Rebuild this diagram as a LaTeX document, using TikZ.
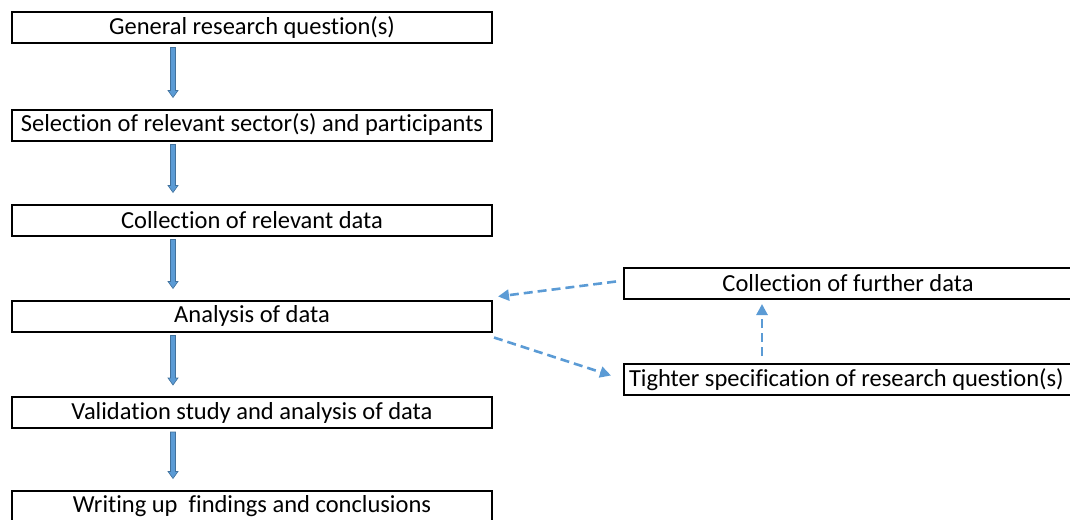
\documentclass[tikz,border=0pt]{standalone}
\usepackage{fontspec}
\setmainfont{Carlito}[Ligatures=NoCommon]
\usetikzlibrary{arrows.meta,calc}
\definecolor{arrowblue}{HTML}{5B9BD5}
\definecolor{arrowedge}{HTML}{41719C}
\tikzset{
  box/.style={draw=black, line width=2pt, inner sep=0pt, minimum height=31pt, font=\fontsize{24.5}{26}\selectfont, text=black},
  leftbox/.style={box, minimum width=480pt},
  rightbox/.style={box, minimum width=448pt},
  dasharrow/.style={draw=arrowblue, line width=2.6pt, dash pattern=on 9pt off 5pt, -{Triangle[length=11pt,width=11pt]}},
  blockarrow/.style={fill=arrowblue, draw=arrowedge, line width=0.6pt, line join=miter}
}
\newcommand{\blockarr}[2]{%
  \path let \p1=($(#1.south west)+(162,3)$), \p2=($(#2.north west)+(162,-11)$) in
    [blockarrow] (\x1-2.5pt,\y1) -- (\x1+2.5pt,\y1) -- (\x1+2.5pt,\y2+7pt) -- (\x1+5pt,\y2+7pt)
    -- (\x1,\y2) -- (\x1-5pt,\y2+7pt) -- (\x1-2.5pt,\y2+7pt) -- cycle;%
}
\begin{document}
\begin{tikzpicture}[x=1pt,y=-1pt]
\useasboundingbox (0,0) rectangle (1070,519);
\node[leftbox] (q) at (252,28) {General research question(s)};
\node[leftbox] (s) at (252,125) {Selection of relevant sector(s) and participants};
\node[leftbox] (c) at (252,220) {Collection of relevant data};
\node[leftbox] (a) at (252,316) {Analysis of data};
\node[leftbox] (v) at (252,412.5) {Validation study and analysis of data};
\node[leftbox] (w) at (252,506) {Writing up~ findings and conclusions};
\node[rightbox] (cf) at (848,283.5) {Collection of further data};
\node[rightbox] (t) at (848,379.5) {\makebox[448pt][l]{\hspace*{5pt}Tighter specification of research question(s)}};
\blockarr{q}{s}
\blockarr{s}{c}
\blockarr{c}{a}
\blockarr{a}{v}
\blockarr{v}{w}
\draw[dasharrow] ($(cf.west)+(-7,-2)$) -- ($(a.north east)+(5,-3)$);
\draw[dasharrow] ($(a.south east)+(1,5)$) -- ($(t.west)+(-12,-4)$);
\draw[dasharrow] ($(t.north west)+(139,-7)$) -- ($(cf.south west)+(139,4)$);
\end{tikzpicture}
\end{document}
